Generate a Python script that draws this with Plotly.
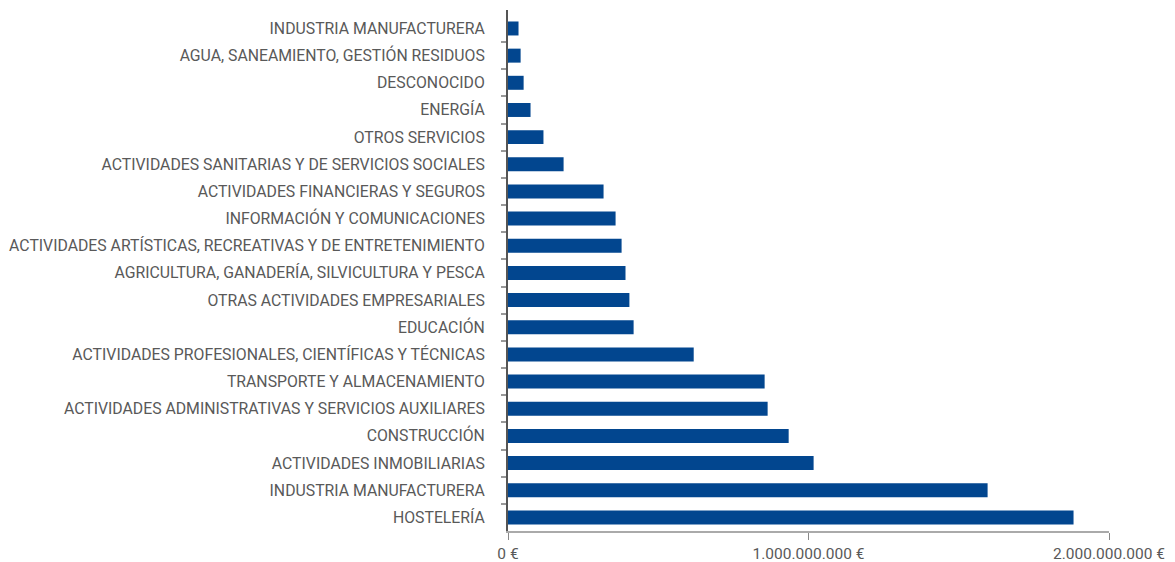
import plotly.graph_objects as go

# sectors, bottom to top as drawn
SECTORS = [
    'HOSTELERÍA',
    'INDUSTRIA MANUFACTURERA',
    'ACTIVIDADES INMOBILIARIAS',
    'CONSTRUCCIÓN',
    'ACTIVIDADES ADMINISTRATIVAS Y SERVICIOS AUXILIARES',
    'TRANSPORTE Y ALMACENAMIENTO',
    'ACTIVIDADES PROFESIONALES, CIENTÍFICAS Y TÉCNICAS',
    'EDUCACIÓN',
    'OTRAS ACTIVIDADES EMPRESARIALES',
    'AGRICULTURA, GANADERÍA, SILVICULTURA Y PESCA',
    'ACTIVIDADES ARTÍSTICAS, RECREATIVAS Y DE ENTRETENIMIENTO',
    'INFORMACIÓN Y COMUNICACIONES',
    'ACTIVIDADES FINANCIERAS Y SEGUROS',
    'ACTIVIDADES SANITARIAS Y DE SERVICIOS SOCIALES',
    'OTROS SERVICIOS',
    'ENERGÍA',
    'DESCONOCIDO',
    'AGUA, SANEAMIENTO, GESTIÓN RESIDUOS',
    'INDUSTRIA MANUFACTURERA',
]

# amount in euros per sector
AMOUNTS = [
    1882e6, 1596e6, 1017e6, 934e6, 864e6, 854e6, 618e6, 418e6, 404e6, 391e6,
    378e6, 358e6, 318e6, 185e6, 118e6, 75e6, 52e6, 42e6, 35e6,
]

X_TICKS = [0, 1e9, 2e9]
X_TICK_LABELS = ['0 €', '1.000.000.000 €', '2.000.000.000 €']

BAR_COLOUR = '#02468f'
TEXT_COLOUR = '#595959'

# the sector list contains a duplicate name, so the axis runs on positions
positions = list(range(len(SECTORS)))

fig = go.Figure()

fig.add_trace(go.Bar(
    x=AMOUNTS,
    y=positions,
    orientation='h',
    marker_color=BAR_COLOUR,
    marker_line_width=0,
))

# page body adds ~8px offset, so margins are shifted to compensate
fig.update_layout(
    width=1167,
    height=562,
    margin=dict(l=500, r=66, t=2, b=39, autoexpand=False),
    paper_bgcolor='white',
    plot_bgcolor='white',
    showlegend=False,
    bargap=0.485,
    font=dict(family='Roboto, sans-serif', size=15.8, color=TEXT_COLOUR),
)

fig.update_xaxes(
    range=[0, 2e9],
    automargin=False,
    tickvals=X_TICKS,
    ticktext=X_TICK_LABELS,
    ticks='outside',
    ticklen=7,
    tickwidth=1,
    tickcolor='#888888',
    ticklabelstandoff=0,
    showline=True,
    linecolor='#aaaaaa',
    linewidth=2,
    showgrid=False,
    zeroline=False,
    tickfont=dict(size=15.5),
)

fig.update_yaxes(
    range=[-0.5, 18.68],
    automargin=False,
    tickvals=positions,
    ticktext=SECTORS,
    ticks='',
    ticklabelstandoff=18,
    showline=True,
    linecolor='#555555',
    linewidth=2,
    showgrid=False,
    zeroline=False,
    minor=dict(
        tickvals=[p + 0.5 for p in positions[:-1]],
        ticks='outside',
        ticklen=5,
        tickwidth=2,
        tickcolor='#999999',
        showgrid=False,
    ),
)

fig.write_html('out.html')
